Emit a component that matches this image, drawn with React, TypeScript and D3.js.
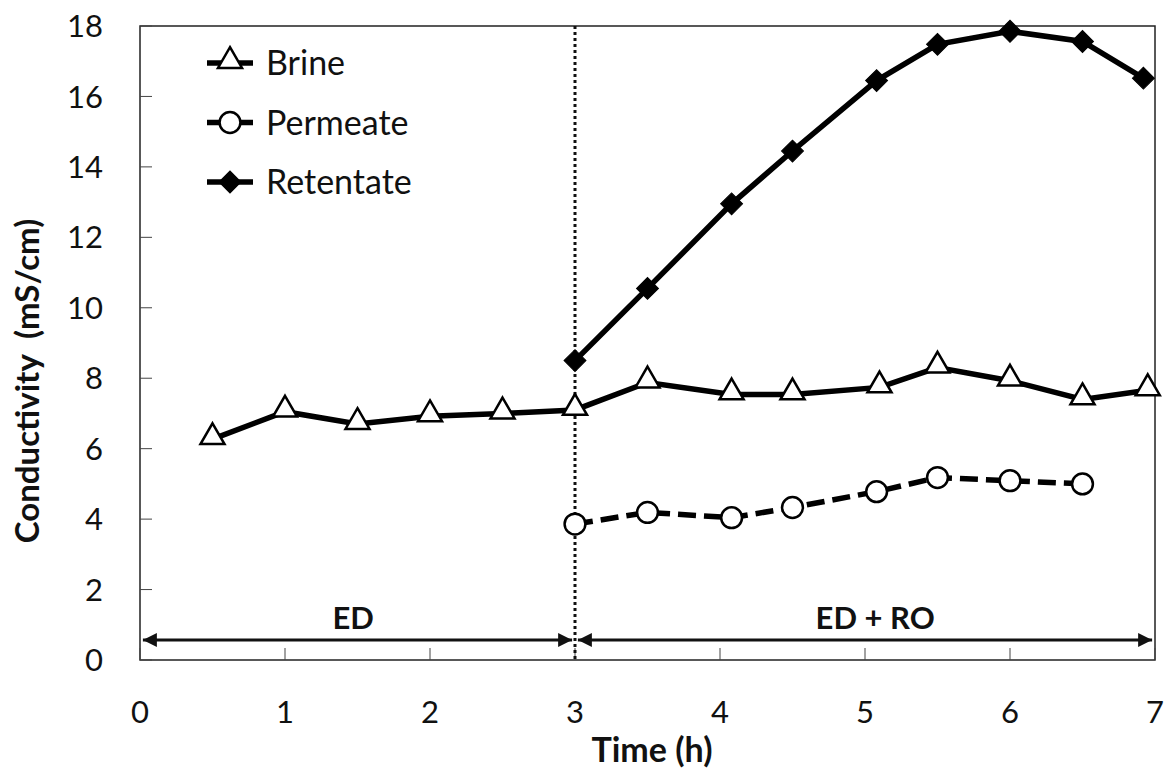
import { useEffect, useRef } from "react";
import * as d3 from "d3";

const brineT = [0.5, 1.0, 1.5, 2.0, 2.5, 3.0, 3.5, 4.08, 4.5, 5.1, 5.5, 6.0, 6.5, 6.95];
const brineC = [6.27, 7.05, 6.7, 6.92, 7.0, 7.1, 7.88, 7.54, 7.54, 7.74, 8.3, 7.93, 7.4, 7.66];

const permT = [3.0, 3.5, 4.08, 4.5, 5.08, 5.5, 6.0, 6.5];
const permC = [3.86, 4.19, 4.04, 4.33, 4.78, 5.18, 5.09, 5.0];

const retT = [3.0, 3.5, 4.08, 4.5, 5.08, 5.5, 6.0, 6.5, 6.92];
const retC = [8.5, 10.55, 12.95, 14.45, 16.45, 17.48, 17.85, 17.56, 16.52];

const xTicks = [0, 1, 2, 3, 4, 5, 6, 7];
const yTicks = [0, 2, 4, 6, 8, 10, 12, 14, 16, 18];
const legendNames = ["Brine", "Permeate", "Retentate"];

const FONT = "Lato, 'Open Sans', sans-serif";

export default function App() {
  const svgRef = useRef<SVGSVGElement>(null);

  useEffect(() => {
    const svg = d3.select(svgRef.current);
    svg.selectAll("*").remove();
    const width = 1166, height = 769;
    const m = { left: 140, right: 11, top: 26, bottom: 109 };
    const innerW = width - m.left - m.right;
    const innerH = height - m.top - m.bottom;

    const x = d3.scaleLinear().domain([0, 7]).range([0, innerW]);
    const y = d3.scaleLinear().domain([0, 18]).range([innerH, 0]);
    const g = svg.append("g").attr("transform", `translate(${m.left},${m.top})`);

    // frame
    g.append("rect").attr("width", innerW).attr("height", innerH)
      .attr("fill", "none").attr("stroke", "#222").attr("stroke-width", 1.5);

    // ticks inward
    g.selectAll(".yt").data(yTicks).enter().append("line")
      .attr("x1", 0).attr("x2", 12).attr("y1", d => y(d)).attr("y2", d => y(d))
      .attr("stroke", "#444").attr("stroke-width", 1);
    g.selectAll(".xt").data(xTicks).enter().append("line")
      .attr("x1", d => x(d)).attr("x2", d => x(d)).attr("y1", innerH).attr("y2", innerH - 12)
      .attr("stroke", "#444").attr("stroke-width", 1);

    g.selectAll(".yl").data(yTicks).enter().append("text")
      .attr("x", -37).attr("y", d => y(d)).attr("dy", "0.36em")
      .attr("text-anchor", "end").style("font-family", FONT).style("font-size", "31px")
      .attr("fill", "#111").text(d => d);
    g.selectAll(".xl").data(xTicks).enter().append("text")
      .attr("x", d => x(d)).attr("y", innerH + 63)
      .attr("text-anchor", "middle").style("font-family", FONT).style("font-size", "31px")
      .attr("fill", "#111").text(d => d);

    svg.append("text").attr("x", 652).attr("y", 762)
      .attr("text-anchor", "middle").style("font-family", FONT).style("font-size", "34px")
      .style("font-weight", "bold").attr("fill", "#111").text("Time (h)");
    svg.append("text").attr("transform", `translate(27,381) rotate(-90)`)
      .attr("text-anchor", "middle").attr("dy", "0.36em").style("font-family", FONT)
      .style("font-size", "33px").style("font-weight", "bold").style("white-space", "pre")
      .attr("fill", "#111").text("Conductivity  (mS/cm)");

    // dotted divider at t=3
    g.append("line").attr("x1", x(3)).attr("x2", x(3)).attr("y1", 0).attr("y2", innerH)
      .attr("stroke", "#111").attr("stroke-width", 3).attr("stroke-dasharray", "3,3");

    // arrows
    const defs = svg.append("defs");
    defs.append("marker").attr("id", "arr").attr("viewBox", "0 0 10 10")
      .attr("refX", 10).attr("refY", 5).attr("markerWidth", 6).attr("markerHeight", 5)
      .attr("markerUnits", "strokeWidth").attr("orient", "auto-start-reverse")
      .append("path").attr("d", "M0,0 L10,5 L0,10 Z").attr("fill", "#111");
    const ay = innerH - 20;
    [[0.02, 2.98], [3.02, 6.98]].forEach(([a, b]) => {
      g.append("line").attr("x1", x(a)).attr("x2", x(b)).attr("y1", ay).attr("y2", ay)
        .attr("stroke", "#111").attr("stroke-width", 2.8)
        .attr("marker-start", "url(#arr)").attr("marker-end", "url(#arr)");
    });
    g.append("text").attr("x", x(1.47)).attr("y", ay - 11).attr("text-anchor", "middle")
      .style("font-family", FONT).style("font-size", "31px").style("font-weight", "bold")
      .attr("fill", "#111").text("ED");
    g.append("text").attr("x", x(5.07)).attr("y", ay - 11).attr("text-anchor", "middle")
      .style("font-family", FONT).style("font-size", "31px").style("font-weight", "bold")
      .attr("fill", "#111").text("ED + RO");

    const line = d3.line<[number, number]>().x(d => x(d[0])).y(d => y(d[1]));
    const brine = brineT.map((t, i) => [t, brineC[i]] as [number, number]);
    const perm = permT.map((t, i) => [t, permC[i]] as [number, number]);
    const ret = retT.map((t, i) => [t, retC[i]] as [number, number]);

    g.append("path").datum(brine).attr("d", line).attr("fill", "none")
      .attr("stroke", "#000").attr("stroke-width", 5.5);
    g.append("path").datum(perm).attr("d", line).attr("fill", "none")
      .attr("stroke", "#000").attr("stroke-width", 5.5).attr("stroke-dasharray", "18,8");
    g.append("path").datum(ret).attr("d", line).attr("fill", "none")
      .attr("stroke", "#000").attr("stroke-width", 5.5);

    const tri = d3.symbol().type(d3.symbolTriangle).size(250);
    const circ = d3.symbol().type(d3.symbolCircle).size(340);
    const dia = d3.symbol().type(d3.symbolSquare).size(240);

    g.selectAll(".bm").data(brine).enter().append("path")
      .attr("d", tri).attr("transform", d => `translate(${x(d[0])},${y(d[1]) - 2})`)
      .attr("fill", "#fff").attr("stroke", "#000").attr("stroke-width", 2.5);
    g.selectAll(".pm").data(perm).enter().append("path")
      .attr("d", circ).attr("transform", d => `translate(${x(d[0])},${y(d[1])})`)
      .attr("fill", "#fff").attr("stroke", "#000").attr("stroke-width", 2.5);
    g.selectAll(".rm").data(ret).enter().append("path")
      .attr("d", dia).attr("transform", d => `translate(${x(d[0])},${y(d[1])}) rotate(45)`)
      .attr("fill", "#000").attr("stroke", "#000").attr("stroke-width", 1);

    // legend
    const symbols = [tri, circ, dia];
    const fills = ["#fff", "#fff", "#000"];
    const lg = svg.append("g").attr("transform", "translate(207,63)");
    legendNames.forEach((name, i) => {
      const row = lg.append("g").attr("transform", `translate(0,${i * 59.5})`);
      row.append("line").attr("x1", 0).attr("x2", 46).attr("stroke", "#000").attr("stroke-width", 5.5);
      row.append("path").attr("d", symbols[i])
        .attr("transform", i === 0 ? "translate(23,-2)" : i === 2 ? "translate(23,0) rotate(45)" : "translate(23,0)")
        .attr("fill", fills[i]).attr("stroke", "#000").attr("stroke-width", i === 2 ? 1 : 2.5);
      row.append("text").attr("x", 59).attr("y", 0).attr("dy", "0.36em")
        .style("font-family", FONT).style("font-size", "34px").attr("fill", "#111").text(name);
    });
  }, []);

  return <svg ref={svgRef} width={1166} height={769} style={{ position: "absolute", left: 0, top: 0 }} />;
}
